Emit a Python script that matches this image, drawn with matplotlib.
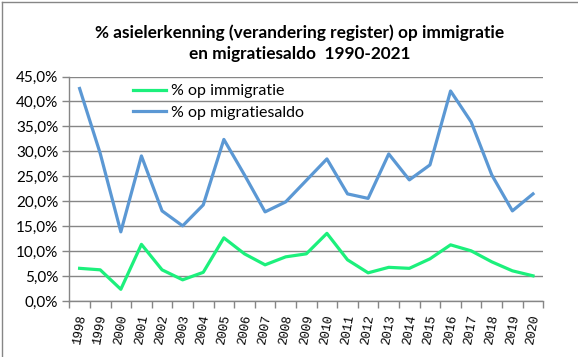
import matplotlib
matplotlib.use("Agg")
import matplotlib.pyplot as plt
from matplotlib.ticker import FuncFormatter, FixedLocator
from matplotlib.lines import Line2D

years = [str(y) for y in range(1998, 2021)]
immigratie = [6.6, 6.3, 2.4, 11.4, 6.3, 4.3, 5.8, 12.7, 9.5, 7.3, 8.9, 9.5,
              13.6, 8.3, 5.7, 6.8, 6.6, 8.5, 11.3, 10.1, 7.9, 6.1, 5.1]
migratiesaldo = [42.6, 29.6, 13.9, 29.1, 18.1, 15.1, 19.3, 32.4, 25.3, 17.9, 19.9, 24.2,
                 28.5, 21.5, 20.6, 29.5, 24.3, 27.3, 42.1, 35.9, 25.3, 18.1, 21.5]
title = "% asielerkenning (verandering register) op immigratie\nen migratiesaldo  1990-2021"
labels = ["% op immigratie", "% op migratiesaldo"]

W, H = 578, 357
fig = plt.figure(figsize=(W / 100, H / 100), dpi=100)
ax = fig.add_axes([69.3 / W, 1 - 301.3 / H, (543.3 - 69.3) / W, (301.3 - 76.5) / H])

x = list(range(len(years)))
green = "#1CF07C"
blue = "#5B98D4"
ax.plot(x, immigratie, color=green, lw=2.3, label=labels[0], solid_joinstyle="round")
ax.plot(x, migratiesaldo, color=blue, lw=2.3, label=labels[1], solid_joinstyle="round")

ax.set_xlim(-0.5, len(years) - 0.5)
ax.set_ylim(0, 45)
ax.set_yticks([0, 5, 10, 15, 20, 25, 30, 35, 40, 45])
ax.yaxis.set_major_formatter(FuncFormatter(lambda v, p: f"{v:.1f}".replace(".", ",") + "%"))
ax.grid(axis="y", color="#868686", lw=1)
ax.set_axisbelow(True)

ax.set_xticks(x)
ax.set_xticklabels(years, rotation=80, family="Liberation Mono", fontsize=9,
                   ha="center", va="top")
ax.tick_params(axis="x", which="major", length=0, pad=9)
ax.xaxis.set_minor_locator(FixedLocator([i - 0.5 for i in range(len(years) + 1)]))
ax.tick_params(axis="x", which="minor", length=5, color="#868686", width=1)
ax.tick_params(axis="y", length=5, color="#868686", width=1, pad=3)
for lab in ax.get_yticklabels():
    lab.set_family("Lato")
    lab.set_fontsize(11)

for s in ["top", "right"]:
    ax.spines[s].set_visible(False)
for s in ["left", "bottom"]:
    ax.spines[s].set_color("#868686")
    ax.spines[s].set_linewidth(1)

leg = ax.legend(loc="upper left", bbox_to_anchor=(0.12, 0.995), frameon=False,
                prop={"family": "Lato", "size": 11.5}, handlelength=2.1,
                handletextpad=0.28, labelspacing=0.45, borderaxespad=0)

fig.text(300 / W, 1 - 43 / H, title, ha="center", va="center", family="Lato",
         fontweight="bold", fontsize=12.4, linespacing=1.35)

# outer chart border (left and top visible)
fig.add_artist(Line2D([1.5 / W, 1.5 / W], [0, 1 - 1.5 / H], transform=fig.transFigure,
                      color="#868686", lw=1))
fig.add_artist(Line2D([1.5 / W, 1], [1 - 1.5 / H, 1 - 1.5 / H], transform=fig.transFigure,
                      color="#868686", lw=1))

fig.savefig("out.png", dpi=100)
